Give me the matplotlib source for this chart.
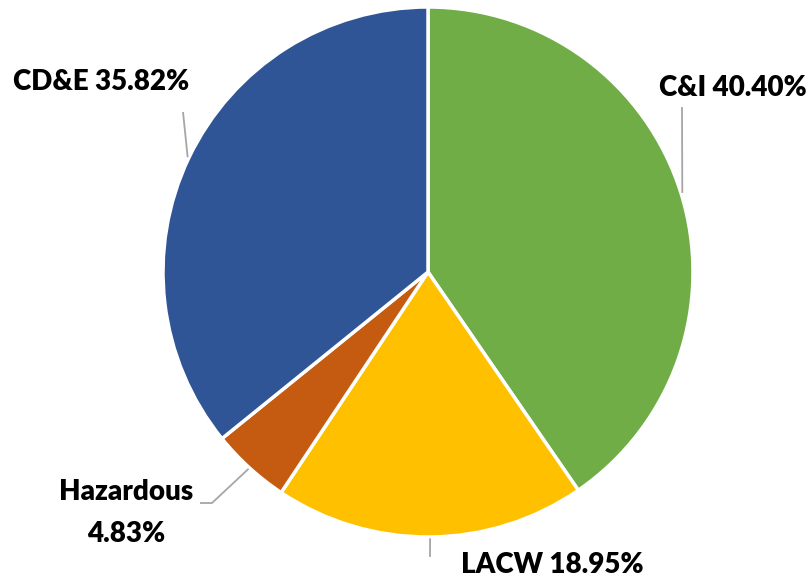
import matplotlib
matplotlib.use('Agg')
import matplotlib.pyplot as plt
import numpy as np

# waste stream shares (%)
categories = ['C&I', 'LACW', 'Hazardous', 'CD&E']
shares = [40.40, 18.95, 4.83, 35.82]
colors = ['#70AD47', '#FFC000', '#C55A11', '#2F5597']

W, H = 812, 578
CX, CY, R = 428, 272, 265


def px(x, y):
    # pixel position of the reference -> data coords (pie radius = 1)
    return (x - CX) / R, (CY - y) / R


fig = plt.figure(figsize=(W / 100, H / 100), dpi=100)
ax = fig.add_axes([0, 0, 1, 1])

wedges, _ = ax.pie(shares, colors=colors, startangle=90, counterclock=False,
                   radius=1, wedgeprops=dict(edgecolor='white', linewidth=2.5))

x0, y1 = px(0, 0)
x1, y0 = px(W, H)
ax.set_xlim(x0, x1)
ax.set_ylim(y0, y1)
ax.set_aspect('auto')
ax.axis('off')

# label layout: text position (px), leader path after anchor (px)
layout = {
    'C&I': dict(text=(733, 88), path=[(682, 107)]),
    'LACW': dict(text=(552, 565), path=[(430, 557)]),
    'Hazardous': dict(text=(126, 513), path=[(212, 503), (200, 503)]),
    'CD&E': dict(text=(101, 82), path=[(183, 112)]),
}

font = dict(family=['Lato', 'DejaVu Sans'], fontsize=20, fontweight='heavy', color='#000000')

for w, cat, val in zip(wedges, categories, shares):
    mid = np.deg2rad((w.theta1 + w.theta2) / 2)
    anchor = (1.005 * np.cos(mid), 1.005 * np.sin(mid))
    lay = layout[cat]
    pts = [anchor] + [px(*p) for p in lay['path']]
    xs, ys = zip(*pts)
    ax.plot(xs, ys, color='#A6A6A6', lw=1.3, solid_capstyle='butt')
    if cat == 'Hazardous':
        label = f'{cat}\n{val:.2f}%'
    else:
        label = f'{cat} {val:.2f}%'
    tx, ty = px(*lay['text'])
    ax.text(tx, ty, label, ha='center', va='center', multialignment='center',
            linespacing=1.8, **font)

fig.savefig('out.png', dpi=100)
